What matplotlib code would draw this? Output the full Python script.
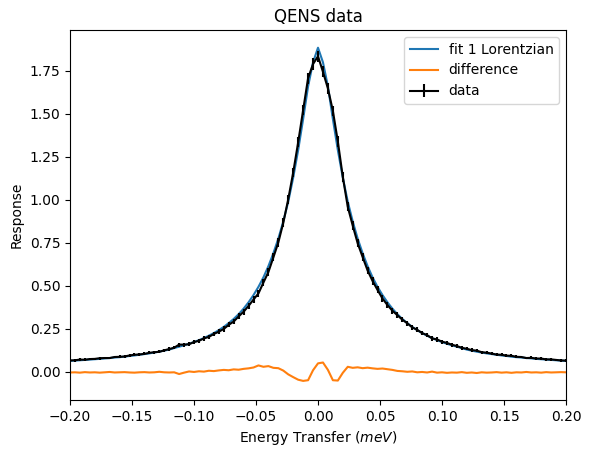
import numpy as np
import matplotlib
matplotlib.use("Agg")
import matplotlib.pyplot as plt

# energy bins (meV)
energy = np.linspace(-0.2, 0.2, 101)

# fitted single Lorentzian
fit_values = [
    0.064, 0.066, 0.068, 0.070, 0.072, 0.074, 0.076, 0.079, 0.081, 0.084,
    0.086, 0.089, 0.093, 0.096, 0.100, 0.104, 0.108, 0.113, 0.118, 0.124,
    0.130, 0.139, 0.147, 0.155, 0.164, 0.174, 0.185, 0.197, 0.211, 0.226,
    0.243, 0.262, 0.284, 0.308, 0.336, 0.368, 0.405, 0.447, 0.495, 0.550,
    0.615, 0.690, 0.775, 0.875, 0.990, 1.130, 1.290, 1.470, 1.660, 1.800,
    1.885,
    1.800, 1.660, 1.470, 1.290, 1.130, 0.990, 0.875, 0.775, 0.690, 0.615,
    0.550, 0.495, 0.447, 0.405, 0.368, 0.336, 0.308, 0.284, 0.262, 0.243,
    0.226, 0.211, 0.197, 0.185, 0.174, 0.164, 0.155, 0.147, 0.139, 0.130,
    0.124, 0.118, 0.113, 0.108, 0.104, 0.100, 0.096, 0.093, 0.089, 0.086,
    0.084, 0.081, 0.079, 0.076, 0.074, 0.072, 0.070, 0.068, 0.066, 0.064,
]

# measured response
data_values = [
    0.067, 0.068, 0.072, 0.071, 0.075, 0.076, 0.080, 0.081, 0.081, 0.087,
    0.088, 0.090, 0.096, 0.100, 0.102, 0.105, 0.111, 0.115, 0.117, 0.126,
    0.133, 0.141, 0.159, 0.159, 0.161, 0.174, 0.181, 0.195, 0.204, 0.221,
    0.234, 0.250, 0.274, 0.293, 0.323, 0.350, 0.384, 0.421, 0.457, 0.520,
    0.581, 0.666, 0.753, 0.867, 1.004, 1.160, 1.335, 1.522, 1.708, 1.790,
    1.835,
    1.745, 1.648, 1.518, 1.340, 1.135, 0.960, 0.851, 0.748, 0.668, 0.590,
    0.529, 0.477, 0.427, 0.389, 0.356, 0.330, 0.304, 0.283, 0.259, 0.245,
    0.226, 0.214, 0.195, 0.189, 0.176, 0.169, 0.158, 0.151, 0.140, 0.135,
    0.127, 0.124, 0.115, 0.112, 0.107, 0.101, 0.100, 0.095, 0.094, 0.088,
    0.087, 0.081, 0.082, 0.078, 0.078, 0.073, 0.073, 0.070, 0.067, 0.066,
]

data_errors = [
    0.008, 0.008, 0.008, 0.008, 0.008, 0.008, 0.008, 0.008, 0.008, 0.008,
    0.008, 0.008, 0.009, 0.009, 0.009, 0.009, 0.009, 0.009, 0.009, 0.010,
    0.010, 0.010, 0.011, 0.011, 0.012, 0.012, 0.012, 0.013, 0.013, 0.014,
    0.014, 0.015, 0.015, 0.016, 0.017, 0.018, 0.018, 0.019, 0.020, 0.021,
    0.022, 0.023, 0.024, 0.026, 0.027, 0.028, 0.030, 0.031, 0.032, 0.033,
    0.033,
    0.033, 0.032, 0.031, 0.030, 0.028, 0.027, 0.026, 0.024, 0.023, 0.022,
    0.021, 0.020, 0.019, 0.018, 0.018, 0.017, 0.016, 0.015, 0.015, 0.014,
    0.014, 0.013, 0.013, 0.012, 0.012, 0.012, 0.011, 0.011, 0.010, 0.010,
    0.010, 0.009, 0.009, 0.009, 0.009, 0.009, 0.009, 0.009, 0.008, 0.008,
    0.008, 0.008, 0.008, 0.008, 0.008, 0.008, 0.008, 0.008, 0.008, 0.008,
]

fit_values = np.array(fit_values)
data_values = np.array(data_values)
data_errors = np.array(data_errors)
difference = fit_values - data_values

fig = plt.figure(figsize=(5.91, 4.57), dpi=100)
ax = fig.add_axes([70 / 591, 57 / 457, 496 / 591, 370 / 457])

ax.plot(energy, fit_values, label="fit 1 Lorentzian")
ax.plot(energy, difference, label="difference")
ax.errorbar(energy, data_values, yerr=data_errors, color="k", label="data")

ax.set_xlim(-0.2, 0.2)
ax.set_ylim(-0.163, 1.988)
ax.set_title("QENS data")
ax.set_xlabel("Energy Transfer ($meV$)")
ax.set_ylabel("Response")
ax.legend(loc="upper right")

fig.savefig("out.png", dpi=100)
